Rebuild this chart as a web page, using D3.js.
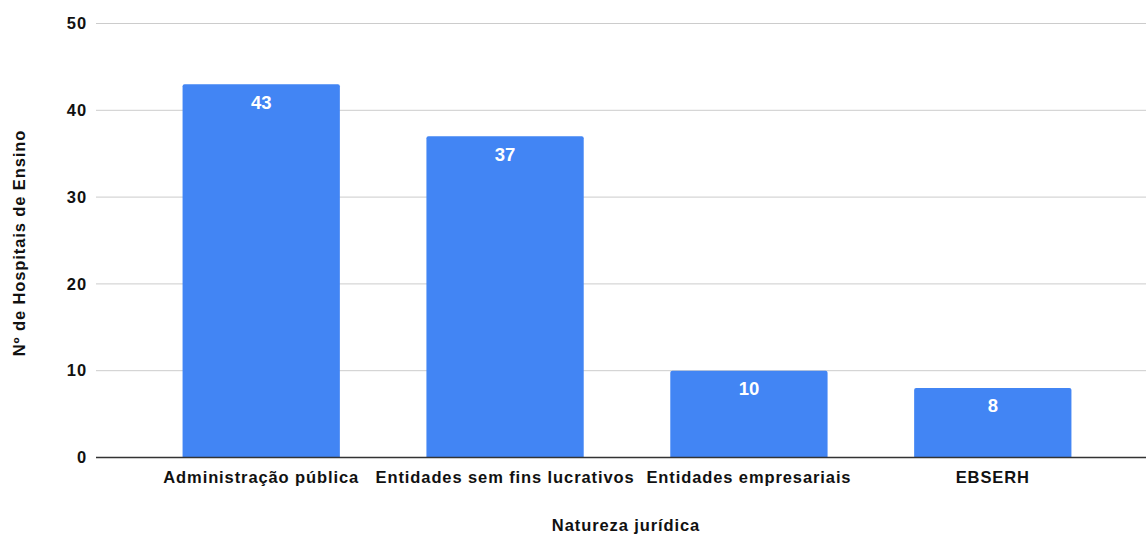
<!DOCTYPE html>
<html>
<head>
<meta charset="utf-8">
<script src="https://cdn.jsdelivr.net/npm/d3@7/dist/d3.min.js"></script>
<style>
  body { margin: 0; background: #fff; }
  svg { display: block; }
  text { font-family: "Liberation Sans", Arial, sans-serif; }
</style>
</head>
<body>
<svg id="chart" width="1146" height="534"></svg>
<script>
// Hospitais de ensino por natureza jurídica
const categories = ["Administração pública", "Entidades sem fins lucrativos", "Entidades empresariais", "EBSERH"];
const values = [43, 37, 10, 8];
const yTicks = [0, 10, 20, 30, 40, 50];

const svg = d3.select("#chart");
const plotLeft = 96, plotBottom = 457.5, plotTop = 23.5;
const labelStyle = sel => sel
  .attr("font-size", 16.5)
  .attr("font-weight", "bold")
  .attr("letter-spacing", 0.9)
  .attr("fill", "#111");

const x = d3.scaleBand()
  .domain(categories)
  .range([plotLeft, 1158])
  .paddingInner(0.355)
  .paddingOuter(0.355);

const y = d3.scaleLinear().domain([0, 50]).range([plotBottom, plotTop]);

// grid lines
svg.append("g")
  .selectAll("line")
  .data(yTicks.filter(d => d !== 0))
  .join("line")
  .attr("x1", plotLeft).attr("x2", 1146)
  .attr("y1", d => y(d)).attr("y2", d => y(d))
  .attr("stroke", "#cccccc").attr("stroke-width", 1);

// y tick labels
svg.append("g")
  .selectAll("text")
  .data(yTicks)
  .join("text")
  .attr("x", 87)
  .attr("y", d => y(d))
  .attr("dy", "0.35em")
  .attr("text-anchor", "end")
  .call(labelStyle)
  .text(d => d);

// bars with slightly rounded tops
const r = 2;
svg.append("g")
  .selectAll("path")
  .data(categories.map((c, i) => ({ c, v: values[i] })))
  .join("path")
  .attr("fill", "#4285f4")
  .attr("d", d => {
    const x0 = x(d.c), x1 = x0 + x.bandwidth(), y0 = y(d.v), y1 = y(0);
    return `M${x0},${y1}V${y0 + r}Q${x0},${y0} ${x0 + r},${y0}H${x1 - r}Q${x1},${y0} ${x1},${y0 + r}V${y1}Z`;
  });

// value labels
svg.append("g")
  .selectAll("text")
  .data(categories.map((c, i) => ({ c, v: values[i] })))
  .join("text")
  .attr("x", d => x(d.c) + x.bandwidth() / 2)
  .attr("y", d => y(d.v) + 24.4)
  .attr("text-anchor", "middle")
  .attr("font-family", "Roboto, sans-serif")
  .attr("font-size", 18.5)
  .attr("font-weight", "bold")
  .attr("fill", "#ffffff")
  .text(d => d.v);

// baseline
svg.append("line")
  .attr("x1", plotLeft).attr("x2", 1146)
  .attr("y1", y(0)).attr("y2", y(0))
  .attr("stroke", "#333333").attr("stroke-width", 1.5);

// category labels
svg.append("g")
  .selectAll("text")
  .data(categories)
  .join("text")
  .attr("x", d => x(d) + x.bandwidth() / 2)
  .attr("y", 483)
  .attr("text-anchor", "middle")
  .call(labelStyle)
  .text(d => d);

// axis titles
svg.append("text")
  .attr("x", 626).attr("y", 531)
  .attr("text-anchor", "middle")
  .call(labelStyle)
  .text("Natureza jurídica");

svg.append("text")
  .attr("transform", "translate(25,243) rotate(-90)")
  .attr("text-anchor", "middle")
  .call(labelStyle)
  .text("Nº de Hospitais de Ensino");
</script>
</body>
</html>
